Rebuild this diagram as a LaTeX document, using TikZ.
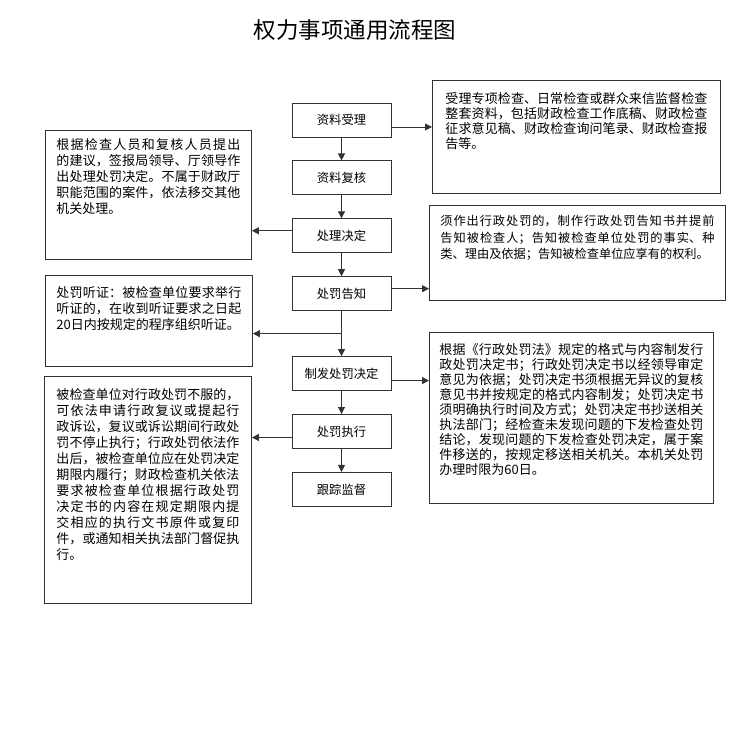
\documentclass[tikz,border=0pt]{standalone}
\usepackage{fontspec}
\setmainfont{Noto Sans CJK SC}
\XeTeXlinebreaklocale "zh"
\XeTeXlinebreakskip=0pt plus 2pt
\usetikzlibrary{arrows.meta,positioning}
\usetikzlibrary{calc}
\definecolor{line_gray}{HTML}{333333}

\begin{document}
\begin{tikzpicture}[
        x=1pt, y=1pt,
        onlytext/.style={align=center, font=\fontsize{22.5pt}{26pt}\selectfont},
        stepbox/.style={rectangle, draw=line_gray, line width=0.9pt, minimum width=99pt, minimum height=34pt, inner sep=0pt, font=\fontsize{12.3pt}{14pt}\selectfont},
        notebox/.style={rectangle, draw=line_gray, line width=0.9pt, anchor=north west, font=\fontsize{13pt}{15pt}\selectfont},
        leftnote/.style={notebox, font=\fontsize{13pt}{16pt}\selectfont},
        normalline/.style={-{Triangle[length=7pt, width=7pt]}, line width=0.9pt, line_gray},
        node distance=23pt,
    ]
    \useasboundingbox (0,0) rectangle (750,738);

    \node[onlytext] (title) at (355,708) {权力事项通用流程图};

    % ------------ main column
    \node[stepbox] (shouli) at (341.5,618) {资料受理};
    \node[stepbox, below=of shouli] (fuhe) {资料复核};
    \node[stepbox, below=of fuhe] (chuli) {处理决定};
    \node[stepbox, below=of chuli] (gaozhi) {处罚告知};
    \node[stepbox, below=45pt of gaozhi] (zhifa) {制发处罚决定};
    \node[stepbox, below=of zhifa] (zhixing) {处罚执行};
    \node[stepbox, below=of zhixing] (jiandu) {跟踪监督};

    \draw [normalline] (shouli) -- (fuhe);
    \draw [normalline] (fuhe) -- (chuli);
    \draw [normalline] (chuli) -- (gaozhi);
    \draw [normalline] (gaozhi) -- (zhifa);
    \draw [normalline] (zhifa) -- (zhixing);
    \draw [normalline] (zhixing) -- (jiandu);

    % ------------ notes on the right
    \node[notebox, inner xsep=13pt, inner ysep=12pt] (shouliinfo) at (432,658) {\parbox[t][89pt][t]{262pt}{受理专项检查、日常检查或群众来信监督检查\linebreak 整套资料，包括财政检查工作底稿、财政检查\linebreak 征求意见稿、财政检查询问笔录、财政检查报\linebreak 告等。}};
    \node[notebox, inner xsep=11pt, inner ysep=10pt, font=\fontsize{12.2pt}{16.3pt}\selectfont] (gaozhiinfo) at (429,533) {\parbox[t][75pt][t]{274pt}{须作出行政处罚的，制作行政处罚告知书并提前\linebreak 告知被检查人；告知被检查单位处罚的事实、种\linebreak 类、理由及依据；告知被检查单位应享有的权利。}};
    \node[notebox, inner xsep=10pt, inner ysep=11pt] (zhifainfo) at (429,406) {\parbox[t][149pt][t]{264pt}{根据《行政处罚法》规定的格式与内容制发行\linebreak 政处罚决定书；行政处罚决定书以经领导审定\linebreak 意见为依据；处罚决定书须根据无异议的复核\linebreak 意见书并按规定的格式内容制发；处罚决定书\linebreak 须明确执行时间及方式；处罚决定书抄送相关\linebreak 执法部门；经检查未发现问题的下发检查处罚\linebreak 结论，发现问题的下发检查处罚决定，属于案\linebreak 件移送的，按规定移送相关机关。本机关处罚\linebreak 办理时限为60日。}};

    % ------------ notes on the left
    \node[leftnote, inner xsep=11pt, inner ysep=8pt] (chuliinfo) at (45,608) {\parbox[t][113pt][t]{184pt}{根据检查人员和复核人员提出\linebreak 的建议，签报局领导、厅领导作\linebreak 出处理处罚决定。不属于财政厅\linebreak 职能范围的案件，依法移交其他\linebreak 机关处理。}};
    \node[leftnote, inner xsep=11pt, inner ysep=11pt] (tingzheng) at (45,463) {\parbox[t][69pt][t]{185pt}{处罚听证：被检查单位要求举行\linebreak 听证的，在收到听证要求之日起\linebreak 20日内按规定的程序组织听证。}};
    \node[leftnote, inner xsep=12pt, inner ysep=12pt] (zhixinginfo) at (44,362) {\parbox[t][203pt][t]{183pt}{被检查单位对行政处罚不服的，\linebreak 可依法申请行政复议或提起行\linebreak 政诉讼，复议或诉讼期间行政处\linebreak 罚不停止执行；行政处罚依法作\linebreak 出后，被检查单位应在处罚决定\linebreak 期限内履行；财政检查机关依法\linebreak 要求被检查单位根据行政处罚\linebreak 决定书的内容在规定期限内提\linebreak 交相应的执行文书原件或复印\linebreak 件，或通知相关执法部门督促执\linebreak 行。}};

    % ------------ side arrows
    \draw [normalline] ([yshift=-7pt]shouli.east) -- ([yshift=-7pt]shouli.east -| shouliinfo.west);
    \draw [normalline] ([yshift=5pt]chuli.west) -- ([yshift=5pt]chuli.west -| chuliinfo.east);
    \draw [normalline] ([yshift=5pt]gaozhi.east) -- ([yshift=5pt]gaozhi.east -| gaozhiinfo.west);
    \coordinate (fork) at ($(gaozhi.south)!0.5!(zhifa.north)$);
    \draw [normalline] (fork) -- (fork -| tingzheng.east);
    \draw [normalline] ([yshift=-7pt]zhifa.east) -- ([yshift=-7pt]zhifa.east -| zhifainfo.west);
    \draw [normalline] ([yshift=-6pt]zhixing.west) -- ([yshift=-6pt]zhixing.west -| zhixinginfo.east);

\end{tikzpicture}
\end{document}
